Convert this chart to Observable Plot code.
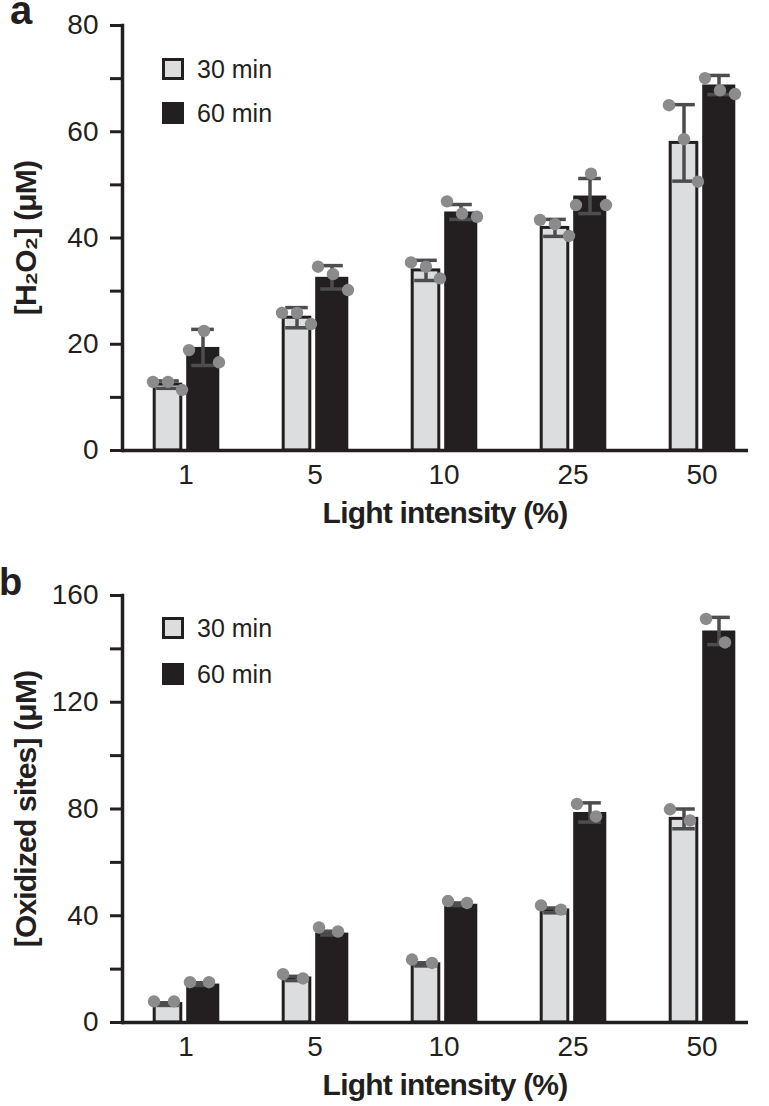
<!DOCTYPE html>
<html><head><meta charset="utf-8">
<script src="https://cdn.jsdelivr.net/npm/d3@7"></script>
<script src="https://cdn.jsdelivr.net/npm/@observablehq/plot@0.6"></script>
<style>
body{margin:0;background:#fff;font-family:"Liberation Sans",Arial,sans-serif;color:#231f20;}
.panel{position:relative;width:769px;}
.letter{position:absolute;font-weight:bold;line-height:20px;}
.item{position:absolute;left:162px;display:flex;align-items:center;height:22px;font-size:25px;white-space:nowrap;}
.sw{width:22px;height:22px;box-sizing:border-box;margin-right:13px;}
.sw.light{background:#dcdddf;border:3px solid #231f20;}
.sw.dark{background:#231f20;}
svg g[aria-label="x-axis label"] text, svg g[aria-label="y-axis label"] text{font-weight:bold;font-size:30px;letter-spacing:-0.8px;}
</style></head><body>
<div id="pa" class="panel"></div>
<div id="pb" class="panel"></div>
<script>
// ---- data ----
const categories = ["1", "5", "10", "25", "50"];
const seriesNames = ["30 min", "60 min"];
const xTitle = "Light intensity (%)";

// Panel a: [H2O2] (µM)
const h2o2_30 = [12.4, 25.0, 33.9, 41.9, 57.9];
const h2o2_30_sd = [0.7, 1.9, 1.9, 1.6, 7.2];
const h2o2_30_reps = [[12.9, 12.9, 11.4], [25.9, 25.9, 23.8], [35.4, 34.6, 32.4], [43.4, 42.6, 40.4], [65.0, 58.6, 50.6]];
const h2o2_60 = [19.4, 32.6, 44.9, 47.9, 68.8];
const h2o2_60_sd = [3.4, 2.2, 1.4, 3.3, 1.8];
const h2o2_60_reps = [[18.9, 22.5, 16.6], [34.6, 33.2, 30.2], [46.9, 44.6, 44.0], [46.2, 52.1, 46.2], [70.1, 67.8, 67.1]];
const yTicksA = [0, 10, 20, 30, 40, 50, 60, 70, 80];
const yLabelsA = [0, 20, 40, 60, 80];

// Panel b: [Oxidized sites] (µM)
const ox_30 = [6.9, 16.5, 21.8, 42.0, 76.3];
const ox_30_sd = [0.5, 0.8, 0.6, 0.9, 3.7];
const ox_30_reps = [[7.9, 7.9], [18.1, 16.5], [23.6, 22.3], [43.9, 42.3], [79.9, 75.7]];
const ox_60 = [14.4, 33.5, 44.3, 78.7, 146.7];
const ox_60_sd = [0.5, 0.7, 0.5, 3.6, 5.1];
const ox_60_reps = [[15.1, 15.1], [35.6, 34.1], [45.5, 44.8], [81.9, 77.2], [151.2, 142.4]];
const yTicksB = [0, 20, 40, 60, 80, 100, 120, 140, 160];
const yLabelsB = [0, 40, 80, 120, 160];

// ---- styles ----
const INK = "#231f20", LIGHT = "#dcdddf", ERR = "#4d4d4f", DOT = "#8b8b8d";

function rows(vals, sds, reps) {
  return categories.map((c, i) => ({cat: c, value: vals[i], sd: sds[i], reps: reps[i]}));
}
function repRows(r, k) { return r.map(d => ({cat: d.cat, v: d.reps[k]})); }

function panel(o) {
  const r30 = rows(o.v30, o.sd30, o.reps30);
  const r60 = rows(o.v60, o.sd60, o.reps60);
  const errMarks = (r, dx, insL, insR) => [
    Plot.ruleX(r, {x: "cat", y1: d => d.value - d.sd, y2: d => d.value + d.sd, dx, stroke: ERR, strokeWidth: 3.5}),
    Plot.tickY(r, {x: "cat", y: d => d.value + d.sd, stroke: ERR, strokeWidth: 3.5, insetLeft: insL, insetRight: insR}),
    Plot.tickY(r, {x: "cat", y: d => d.value - d.sd, stroke: ERR, strokeWidth: 3.5, insetLeft: insL, insetRight: insR})
  ];
  const dotMarks = (r, offs) => offs.map((dx, k) =>
    Plot.dot(repRows(r, k), {x: "cat", y: "v", dx, r: 6.2, fill: DOT, stroke: "none"}));
  return Plot.plot({
    width: 769, height: o.height,
    marginTop: 25, marginLeft: 122, marginRight: 2, marginBottom: o.marginBottom,
    style: {fontFamily: "'Liberation Sans', Arial, sans-serif", color: INK, background: "white", overflow: "visible"},
    x: {domain: categories, range: [120.3, 767.3], padding: 0},
    y: {domain: [0, o.yMax]},
    marks: [
      Plot.barY(r30, {x: "cat", y: "value", fill: LIGHT, stroke: INK, strokeWidth: 3, insetLeft: 33.2, insetRight: 69.2}),
      Plot.barY(r60, {x: "cat", y: "value", fill: INK, insetLeft: 65.2, insetRight: 30.7}),
      ...errMarks(r30, -18, 35.2, 71.2),
      ...errMarks(r60, 17, 70.2, 36.2),
      ...dotMarks(r30, o.off30),
      ...dotMarks(r60, o.off60),
      Plot.ruleY([0], {stroke: INK, strokeWidth: 3.5, insetRight: 19}),
      Plot.frame({anchor: "left", stroke: INK, strokeWidth: 3.5}),
      Plot.axisY({ticks: o.yTicks, tickFormat: d => o.yLabels.includes(d) ? String(d) : "",
        tickSize: 12, tickPadding: 12, strokeWidth: 3, fontSize: 28,
        label: o.yLabel, labelAnchor: "center", labelOffset: 108, labelArrow: "none"}),
      Plot.axisX({tickSize: 0, tickPadding: 14, fontSize: 28,
        label: xTitle, labelAnchor: "center", labelOffset: 72, labelArrow: "none"})
    ]
  });
}

function legend(container, tops) {
  const cls = ["light", "dark"];
  seriesNames.forEach((name, i) => {
    const it = document.createElement("div");
    it.className = "item"; it.style.top = tops[i] + "px";
    it.innerHTML = `<div class="sw ${cls[i]}"></div><span>${name}</span>`;
    container.appendChild(it);
  });
}
function letter(container, t, left, top, size) {
  const d = document.createElement("div");
  d.className = "letter"; d.textContent = t;
  d.style.left = left + "px"; d.style.top = top + "px"; d.style.fontSize = size + "px";
  container.appendChild(d);
}

const pa = document.getElementById("pa");
pa.appendChild(panel({v30: h2o2_30, sd30: h2o2_30_sd, reps30: h2o2_30_reps,
  v60: h2o2_60, sd60: h2o2_60_sd, reps60: h2o2_60_reps,
  yMax: 80, yTicks: yTicksA, yLabels: yLabelsA, yLabel: "[H₂O₂] (μM)",
  height: 570, marginBottom: 120, off30: [-33, -18, -4], off60: [3, 18, 33]}));
legend(pa, [58, 102]);
letter(pa, "a", 10, 0, 40);

const pb = document.getElementById("pb");
pb.appendChild(panel({v30: ox_30, sd30: ox_30_sd, reps30: ox_30_reps,
  v60: ox_60, sd60: ox_60_sd, reps60: ox_60_reps,
  yMax: 160, yTicks: yTicksB, yLabels: yLabelsB, yLabel: "[Oxidized sites] (μM)",
  height: 536, marginBottom: 84, off30: [-32, -12], off60: [4, 23]}));
legend(pb, [47, 93]);
letter(pb, "b", -1, 2, 38);
</script>
</body></html>
